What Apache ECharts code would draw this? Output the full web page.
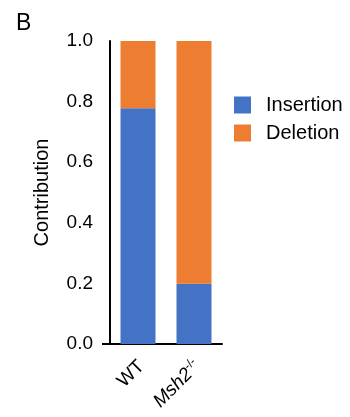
<!DOCTYPE html>
<html>
<head>
<meta charset="utf-8">
<script src="https://cdn.jsdelivr.net/npm/echarts@6/dist/echarts.min.js"></script>
<style>
html,body{margin:0;padding:0;background:#fff;}
#c{width:350px;height:417px;}
</style>
</head>
<body>
<div id="c"></div>
<script>
var categories = ['WT', 'Msh2'];
var insertion = [0.778, 0.199];
var deletion = [0.222, 0.801];
var yTicks = [0, 0.2, 0.4, 0.6, 0.8, 1.0];

var FONT = '"Liberation Sans", Arial, sans-serif';
var chart = echarts.init(document.getElementById('c'), null, {renderer: 'canvas'});
var option = {
  animation: false,
  backgroundColor: '#fff',
  title: {
    text: 'B', left: 11, top: 7,
    textStyle: {fontFamily: FONT, fontSize: 23, fontWeight: 'normal', color: '#000'}
  },
  legend: {
    orient: 'vertical', left: 229, top: 90,
    itemWidth: 17, itemHeight: 17, itemGap: 8,
    icon: 'rect',
    data: ['Insertion', 'Deletion'],
    textStyle: {fontFamily: FONT, fontSize: 20, color: '#000', padding: [0, 0, 0, 10]}
  },
  grid: {left: 110, right: 128, top: 41, bottom: 73, containLabel: false},
  xAxis: {
    type: 'category', data: categories,
    axisLine: {lineStyle: {color: '#000', width: 2}},
    axisTick: {show: false},
    axisLabel: {
      rotate: 45, margin: 16, interval: 0,
      padding: [10, 0, 0, 0],
      fontFamily: FONT, fontSize: 19, color: '#000',
      formatter: function (v) {
        if (v === 'Msh2') return '{i|Msh2}{s|-/-}';
        return v;
      },
      rich: {
        i: {fontFamily: FONT, fontSize: 19, fontStyle: 'italic', color: '#000'},
        s: {fontFamily: FONT, fontSize: 12, color: '#000', verticalAlign: 'top', padding: [0, 0, 10, 0]}
      }
    }
  },
  yAxis: {
    type: 'value', min: 0, max: 1, interval: 0.2,
    name: 'Contribution', nameLocation: 'middle', nameRotate: 90, nameGap: 58,
    nameTextStyle: {fontFamily: FONT, fontSize: 20, color: '#000'},
    axisLine: {show: true, lineStyle: {color: '#000', width: 2}},
    axisTick: {show: false},
    splitLine: {show: false},
    axisLabel: {
      margin: 17, fontFamily: FONT, fontSize: 19, color: '#000',
      formatter: function (v) { return v.toFixed(1); }
    }
  },
  series: [
    {name: 'Insertion', type: 'bar', stack: 'a', data: insertion, barWidth: 35,
     itemStyle: {color: '#4472C4'}},
    {name: 'Deletion', type: 'bar', stack: 'a', data: deletion, barWidth: 35,
     itemStyle: {color: '#ED7D31'}}
  ]
};
chart.setOption(option);
var y0 = chart.convertToPixel({yAxisIndex: 0}, 0);
chart.setOption({
  graphic: [{
    type: 'line', z: 10,
    shape: {x1: 102, y1: y0, x2: 111, y2: y0},
    style: {stroke: '#000', lineWidth: 2}
  }]
});
</script>
</body>
</html>
